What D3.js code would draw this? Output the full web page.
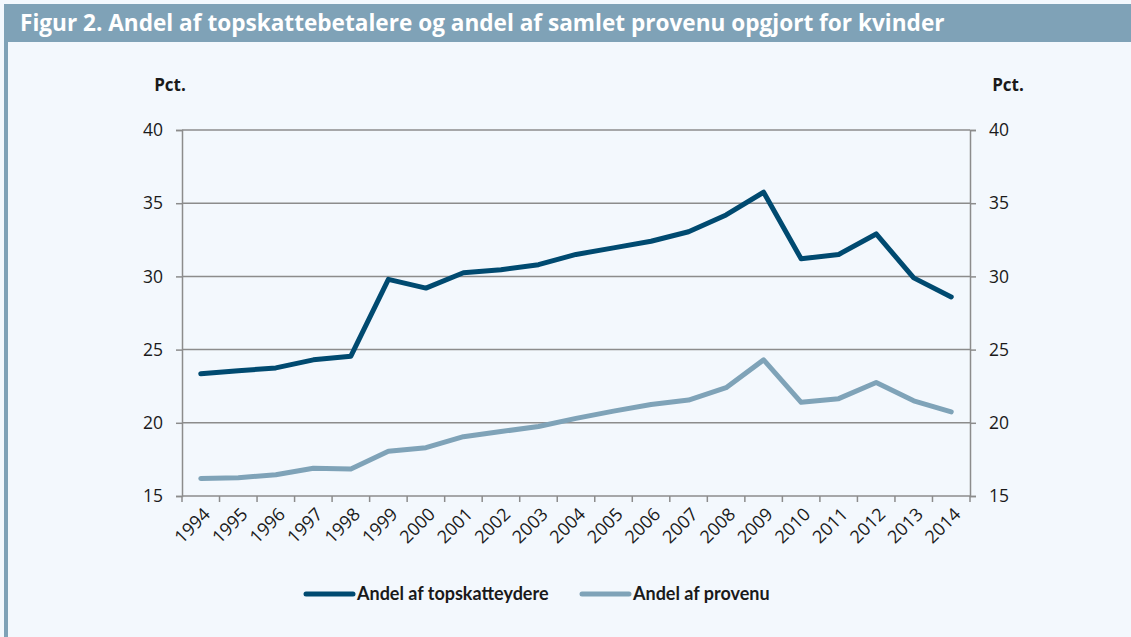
<!DOCTYPE html>
<html>
<head>
<meta charset="utf-8">
<script src="https://cdn.jsdelivr.net/npm/d3@7"></script>
<style>
  body { margin: 0; background: #f3f8fd; }
  svg text { font-family: "Open Sans", "Noto Sans", sans-serif; }
</style>
</head>
<body>
<div id="chart"></div>
<script>
// data
const years = ["1994","1995","1996","1997","1998","1999","2000","2001","2002","2003","2004",
               "2005","2006","2007","2008","2009","2010","2011","2012","2013","2014"];
const topskatteydere = [23.35, 23.55, 23.75, 24.3, 24.55, 29.8, 29.2, 30.25, 30.45, 30.8, 31.5,
                        31.95, 32.4, 33.05, 34.2, 35.75, 31.2, 31.5, 32.9, 29.9, 28.6];
const provenu = [16.2, 16.25, 16.45, 16.9, 16.85, 18.05, 18.3, 19.05, 19.4, 19.75, 20.3,
                 20.8, 21.25, 21.55, 22.4, 24.3, 21.4, 21.65, 22.75, 21.5, 20.75];
const yTicks = [15, 20, 25, 30, 35, 40];
const seriesNames = ["Andel af topskatteydere", "Andel af provenu"];
const colors = ["#004a70", "#7fa3b8"];

const width = 1131, height = 637;
const margin = {top: 130, right: 161, bottom: 141, left: 182};

const svg = d3.select('#chart')
  .append('svg')
  .attr('width', width)
  .attr('height', height);

svg.append('rect').attr('width', width).attr('height', height).attr('fill', '#f3f8fd');

// header bar + left rule
svg.append('rect').attr('x', 4).attr('y', 4).attr('width', width - 4).attr('height', 38).attr('fill', '#7fa2b7');
svg.append('rect').attr('x', 4).attr('y', 4).attr('width', 4).attr('height', height - 4).attr('fill', '#7fa2b7');
svg.append('text')
  .attr('x', 20).attr('y', 31)
  .attr('fill', '#fff')
  .attr('font-size', 22.6)
  .attr('font-weight', 'bold')
  .text('Figur 2. Andel af topskattebetalere og andel af samlet provenu opgjort for kvinder');

const chart = svg.append('g')
  .attr('transform', `translate(${margin.left},${margin.top})`);
const w = width - margin.left - margin.right;
const h = height - margin.top - margin.bottom;

const xScale = d3.scaleBand().domain(years).range([0, w]);
const yScale = d3.scaleLinear().domain([15, 40]).range([h, 0]);

// gridlines
chart.append('g')
  .selectAll('line')
  .data(yTicks.filter(d => d > 15))
  .join('line')
  .attr('x1', 0).attr('x2', w)
  .attr('y1', d => yScale(d)).attr('y2', d => yScale(d))
  .attr('stroke', '#8c8c8c').attr('stroke-width', 1.5);

const yLeft = chart.append('g')
  .call(d3.axisLeft(yScale).tickValues(yTicks).tickSize(6).tickPadding(13));
const yRight = chart.append('g')
  .attr('transform', `translate(${w},0)`)
  .call(d3.axisRight(yScale).tickValues(yTicks).tickSize(6).tickPadding(13));
[yLeft, yRight].forEach(g => {
  g.select('.domain').attr('stroke', '#8c8c8c').attr('stroke-width', 1.5);
  g.selectAll('.tick line').attr('stroke', '#8c8c8c').attr('stroke-width', 1.5);
  g.selectAll('.tick text').attr('font-size', 17.5).attr('fill', '#1a1a1a')
    .style('font-family', '"Open Sans", sans-serif');
});

// x axis: ticks on band boundaries
const xAxis = chart.append('g').attr('transform', `translate(0,${h})`);
xAxis.append('line').attr('x1', 0).attr('x2', w).attr('stroke', '#8c8c8c').attr('stroke-width', 1.5);
xAxis.selectAll('line.tk')
  .data(years.concat(['end']))
  .join('line')
  .attr('class', 'tk')
  .attr('x1', (d, i) => i * xScale.step()).attr('x2', (d, i) => i * xScale.step())
  .attr('y1', 0).attr('y2', 6)
  .attr('stroke', '#8c8c8c').attr('stroke-width', 1.5);
xAxis.selectAll('text')
  .data(years)
  .join('text')
  .attr('transform', d => `translate(${xScale(d) + xScale.bandwidth() / 2 + 6},${15}) rotate(-45)`)
  .attr('text-anchor', 'end')
  .attr('dy', '0.35em')
  .attr('font-size', 18)
  .attr('fill', '#1a1a1a')
  .text(d => d);

// Pct. labels
svg.append('text').attr('x', 170).attr('y', 91).attr('text-anchor', 'middle')
  .attr('font-size', 17).attr('font-weight', 'bold').attr('fill', '#1a1a1a').text('Pct.');
svg.append('text').attr('x', 1008).attr('y', 91).attr('text-anchor', 'middle')
  .attr('font-size', 17).attr('font-weight', 'bold').attr('fill', '#1a1a1a').text('Pct.');

const lineGen = d3.line()
  .x((d, i) => xScale(years[i]) + xScale.bandwidth() / 2)
  .y(d => yScale(d));

[provenu, topskatteydere].forEach((s, k) => {
  chart.append('path')
    .datum(s)
    .attr('fill', 'none')
    .attr('stroke', k === 0 ? colors[1] : colors[0])
    .attr('stroke-width', 5)
    .attr('stroke-linejoin', 'round')
    .attr('stroke-linecap', 'round')
    .attr('d', lineGen);
});

// legend
const legendX = [306, 582];
const legend = svg.append('g');
seriesNames.forEach((name, i) => {
  legend.append('line')
    .attr('x1', legendX[i]).attr('x2', legendX[i] + 47)
    .attr('y1', 594).attr('y2', 594)
    .attr('stroke', colors[i]).attr('stroke-width', 5).attr('stroke-linecap', 'round');
  legend.append('text')
    .attr('x', legendX[i] + 51).attr('y', 600)
    .attr('font-size', 18).attr('font-weight', 'bold').attr('fill', '#1a1a1a')
    .style('font-family', 'Lato, sans-serif')
    .text(name);
});
</script>
</body>
</html>
